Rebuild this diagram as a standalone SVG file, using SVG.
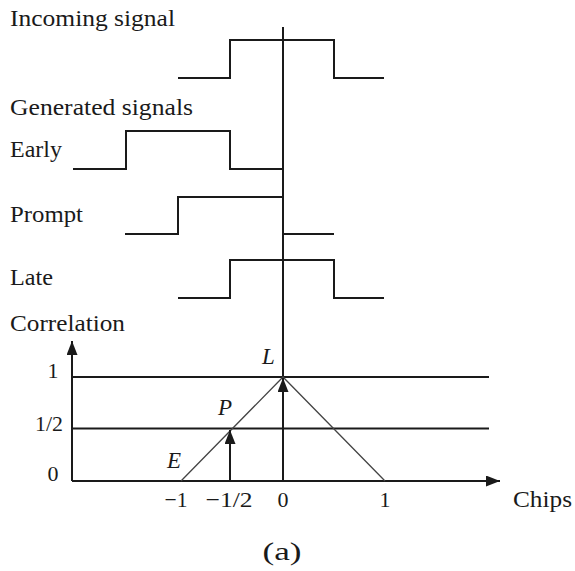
<svg xmlns="http://www.w3.org/2000/svg" width="575" height="571" viewBox="0 0 575 571" font-family="'Liberation Serif', Tinos, 'Times New Roman', serif">
<defs>
<style>
text{font-family:'Liberation Serif',Tinos,'Times New Roman',serif;fill:#1a1a1a}
.lbl{font-size:24px}
.num{font-size:22px}
.it{font-size:23px;font-style:italic}
.sig{fill:none;stroke:#1a1a1a;stroke-width:2}
.ax{fill:none;stroke:#1a1a1a;stroke-width:2}
.tri{fill:none;stroke:#444;stroke-width:1.3}
</style>
<marker id="ah" markerUnits="userSpaceOnUse" markerWidth="15" markerHeight="12" refX="14" refY="5.5" orient="auto" viewBox="0 0 15 12">
<path d="M0,0 L14,5.5 L0,11 z" fill="#1a1a1a"/>
</marker>
</defs>
<rect width="575" height="571" fill="#fff"/>

<g id="labels">
<text class="lbl" x="10" y="26" textLength="165" lengthAdjust="spacingAndGlyphs">Incoming signal</text>
<text class="lbl" x="10" y="115" textLength="183" lengthAdjust="spacingAndGlyphs">Generated signals</text>
<text class="lbl" x="10" y="157" textLength="52" lengthAdjust="spacingAndGlyphs">Early</text>
<text class="lbl" x="10" y="222" textLength="73" lengthAdjust="spacingAndGlyphs">Prompt</text>
<text class="lbl" x="10" y="285" textLength="43" lengthAdjust="spacingAndGlyphs">Late</text>
<text class="lbl" x="10" y="331" textLength="115" lengthAdjust="spacingAndGlyphs">Correlation</text>
</g>

<g id="incoming"><polyline class="sig" points="178,78 230,78 230,40 334,40 334,78 384,78"/></g>
<g id="early"><polyline class="sig" points="73,169 126,169 126,131 230,131 230,169 283,169"/></g>
<g id="prompt"><polyline class="sig" points="125,234 178,234 178,197 283,197"/><line class="sig" x1="283" y1="234" x2="334" y2="234"/></g>
<g id="late"><polyline class="sig" points="178,298 230,298 230,260 334,260 334,298 384,298"/></g>

<g id="axes">
<line class="ax" x1="72" y1="481" x2="72" y2="341" marker-end="url(#ah)"/>
<line class="ax" x1="72" y1="481" x2="500" y2="481" marker-end="url(#ah)"/>
<line class="ax" x1="72" y1="377" x2="489" y2="377"/>
<line class="ax" x1="72" y1="428.5" x2="489" y2="428.5"/>
<line class="ax" x1="283" y1="27" x2="283" y2="481"/>
<text class="num" x="53" y="378" text-anchor="middle">1</text>
<text class="num" x="49" y="431" text-anchor="middle" textLength="28" lengthAdjust="spacingAndGlyphs">1/2</text>
<text class="num" x="53" y="481" text-anchor="middle">0</text>
<text class="num" x="176" y="507" text-anchor="middle" textLength="23" lengthAdjust="spacingAndGlyphs">−1</text>
<text class="num" x="229" y="507" text-anchor="middle" textLength="47" lengthAdjust="spacingAndGlyphs">−1/2</text>
<text class="num" x="283" y="507" text-anchor="middle">0</text>
<text class="num" x="385" y="507" text-anchor="middle">1</text>
<text class="lbl" x="513" y="507" textLength="59" lengthAdjust="spacingAndGlyphs">Chips</text>
<text class="lbl" x="282" y="560" text-anchor="middle" textLength="39" lengthAdjust="spacingAndGlyphs" style="font-size:26px">(a)</text>
</g>

<g id="correlation">
<polyline class="tri" points="181,481 283,377 385,481"/>
<text class="it" x="167" y="468">E</text>
<text class="it" x="218" y="415">P</text>
<text class="it" x="262" y="364">L</text>
</g>

<g id="connectors">
<line class="ax" x1="230" y1="481" x2="230" y2="430" marker-end="url(#ah)"/>
<line class="ax" x1="283" y1="481" x2="283" y2="378" marker-end="url(#ah)"/>
</g>
</svg>
